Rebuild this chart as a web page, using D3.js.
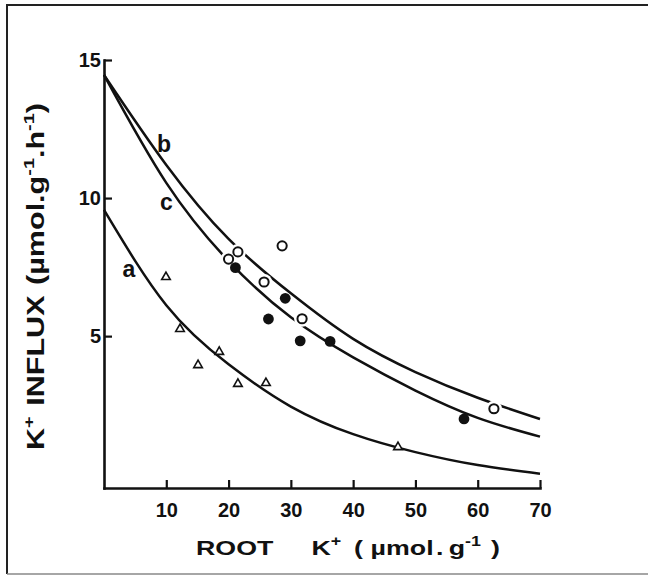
<!DOCTYPE html>
<html><head><meta charset="utf-8">
<script src="https://cdn.jsdelivr.net/npm/d3@7"></script>
<style>
body{margin:0;background:#fff}
svg{display:block;background:#fff}
text{font-family:"Liberation Sans",Arial,Helvetica,sans-serif;font-weight:bold;fill:#111}
</style>
</head><body>
<svg id="chart" width="648" height="576"></svg>
<script>
// ---- data ----
const xTicks = [10, 20, 30, 40, 50, 60, 70];
const yTicks = [5, 10, 15];

// fitted curves, values at x = 0,10,...,70
const curveX = [0, 10, 20, 30, 40, 50, 60, 70];
const curveA = [9.57, 6.12, 3.98, 2.45, 1.45, 0.80, 0.33, 0.02];
const curveB = [14.46, 11.20, 8.52, 6.55, 4.90, 3.70, 2.77, 2.0];
const curveC = [14.46, 10.55, 7.72, 5.68, 4.23, 3.03, 2.04, 1.36];

// measured points
const triA   = [[9.95,7.14],[12.2,5.26],[15.1,3.95],[18.5,4.43],[21.5,3.27],[26.0,3.30],[47.2,0.98]];
const openB  = [[20.0,7.79],[21.5,8.05],[25.7,6.96],[28.6,8.27],[31.8,5.63],[62.6,2.37]];
const filledC= [[21.1,7.48],[26.4,5.62],[29.1,6.37],[31.5,4.83],[36.3,4.81],[57.8,2.0]];

const curveNames = ["a", "b", "c"];
const curveLabelAt = [[4.0,7.14],[9.63,11.67],[10.0,9.57]];

// ---- drawing ----
const svg = d3.select("#chart");
const x = d3.scaleLinear().domain([0, 70]).range([104, 540]);
const y = d3.scaleLinear().domain([-0.5, 15]).range([488, 60]);

// frame
svg.append("path").attr("d","M7,574 L7,5 L648,5").attr("fill","none").attr("stroke","#222").attr("stroke-width",2);
svg.append("line").attr("x1",7).attr("x2",648).attr("y1",574).attr("y2",574).attr("stroke","#888").attr("stroke-width",1.5);

// axes
const gx = svg.append("g").attr("transform","translate(0,488)")
  .call(d3.axisBottom(x).tickValues(xTicks).tickSizeInner(-8).tickSizeOuter(0).tickPadding(15));
const gy = svg.append("g").attr("transform","translate(104,0)")
  .call(d3.axisLeft(y).tickValues(yTicks).tickSizeInner(-8).tickSizeOuter(0).tickPadding(3));
[gx, gy].forEach(g => {
  g.select(".domain").attr("stroke","#111").attr("stroke-width",2.6).attr("stroke-linecap","square");
  g.selectAll(".tick line").attr("stroke","#111").attr("stroke-width",2.2);
  g.selectAll(".tick text").attr("fill","#111").style("font-size","20px").style("font-weight","bold")
    .style("font-family",'"Liberation Sans",Arial,sans-serif');
});

// curves
const line = d3.line().x(d => x(d[0])).y(d => y(d[1])).curve(d3.curveNatural);
[curveA, curveB, curveC].forEach(c => {
  const pts = curveX.map((xv, i) => [xv, c[i]]);
  svg.append("path").datum(pts).attr("d", line).attr("fill","none").attr("stroke","#111").attr("stroke-width",2.5);
});

// curve labels
svg.selectAll("text.clab").data(curveNames).join("text").attr("class","clab")
  .attr("x", (d,i) => x(curveLabelAt[i][0])).attr("y", (d,i) => y(curveLabelAt[i][1]))
  .attr("text-anchor","middle").style("font-size","23px").text(d => d);

// halos around open circles (white gaps in the lines)
svg.selectAll("circle.halo").data(openB).join("circle").attr("class","halo")
  .attr("cx", d => x(d[0])).attr("cy", d => y(d[1])).attr("r", 8).attr("fill","#fff");

// triangles
svg.selectAll("path.tri").data(triA).join("path").attr("class","tri")
  .attr("transform", d => `translate(${x(d[0])},${y(d[1])})`)
  .attr("d", d3.symbol(d3.symbolTriangle, 32)())
  .attr("fill","#fff").attr("stroke","#111").attr("stroke-width",1.6);

// open circles
svg.selectAll("circle.open").data(openB).join("circle").attr("class","open")
  .attr("cx", d => x(d[0])).attr("cy", d => y(d[1])).attr("r", 4.6)
  .attr("fill","#fff").attr("stroke","#111").attr("stroke-width",2);

// filled circles
svg.selectAll("circle.filled").data(filledC).join("circle").attr("class","filled")
  .attr("cx", d => x(d[0])).attr("cy", d => y(d[1])).attr("r", 5.4).attr("fill","#111");

// x title
const xt = svg.append("text").attr("x", 196).attr("y", 555)
  .attr("textLength", 304).attr("lengthAdjust","spacingAndGlyphs").style("font-size","21px");
xt.append("tspan").text("ROOT");
xt.append("tspan").attr("dx", 30).text("K");
xt.append("tspan").attr("dy", -9).style("font-size","14px").text("+");
xt.append("tspan").attr("dy", 9).attr("dx", 10).text("(");
xt.append("tspan").attr("dx", 6).text("µmol");
xt.append("tspan").attr("dx", 2).text(".");
xt.append("tspan").attr("dx", 4).text("g");
xt.append("tspan").attr("dy", -9).style("font-size","14px").text("-1");
xt.append("tspan").attr("dy", 9).attr("dx", 8).text(")");

// y title
const yt = svg.append("text").attr("transform","translate(44,450) rotate(-90)")
  .attr("x", 0).attr("y", 0).attr("textLength", 347).attr("lengthAdjust","spacingAndGlyphs")
  .style("font-size","23px");
yt.append("tspan").text("K");
yt.append("tspan").attr("dy", -10).style("font-size","15px").text("+");
yt.append("tspan").attr("dy", 10).attr("dx", 8).text("INFLUX");
yt.append("tspan").attr("dx", 8).text("(µmol.g");
yt.append("tspan").attr("dy", -10).style("font-size","15px").text("-1");
yt.append("tspan").attr("dy", 10).text(".h");
yt.append("tspan").attr("dy", -10).style("font-size","15px").text("-1");
yt.append("tspan").attr("dy", 10).text(")");
</script>
</body></html>
